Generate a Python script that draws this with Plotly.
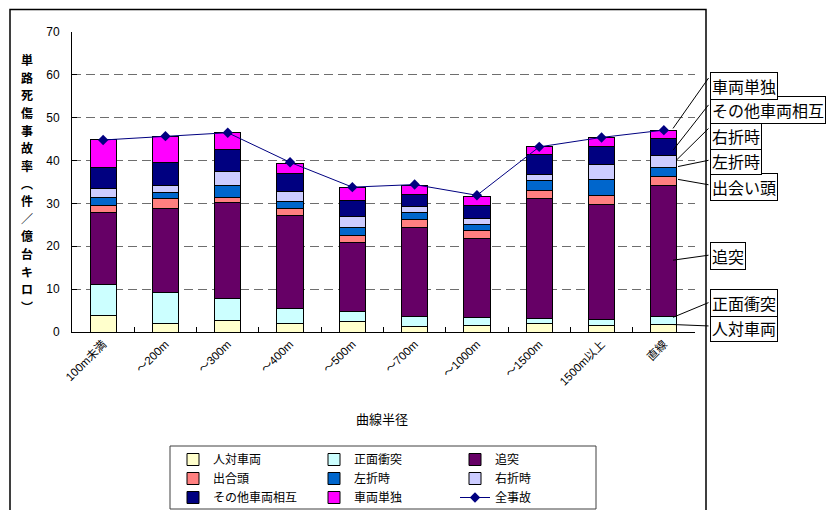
import plotly.graph_objects as go

# Curve radius classes
categories = ["100m未満", "～200m", "～300m", "～400m", "～500m",
              "～700m", "～1000m", "～1500m", "1500m以上", "直線"]

# Casualty accident rate on road sections (件/億台キロ), by accident type
pedestrian     = [3.8, 2.1, 2.6, 2.1, 2.5, 1.3, 1.6, 1.9, 1.5, 1.8]        # 人対車両
head_on        = [7.4, 7.2, 5.2, 3.3, 2.4, 2.4, 1.9, 1.3, 1.4, 1.8]        # 正面衝突
rear_end       = [16.7, 19.6, 22.5, 21.9, 16.0, 20.8, 18.3, 28.0, 26.9, 30.6]  # 追突
crossing       = [1.6, 2.2, 1.2, 1.6, 1.6, 1.7, 1.8, 1.9, 2.0, 2.2]        # 出合頭
left_turn      = [2.0, 1.4, 2.6, 1.6, 2.0, 1.7, 1.5, 2.3, 3.8, 2.1]        # 左折時
right_turn     = [2.0, 1.7, 3.4, 2.3, 2.4, 1.4, 1.3, 1.3, 3.6, 2.6]        # 右折時
other_vehicle  = [4.8, 5.3, 5.1, 4.3, 3.8, 2.8, 3.2, 4.7, 4.0, 4.0]        # その他車両相互
single_vehicle = [6.6, 6.2, 3.9, 2.2, 3.1, 2.2, 2.1, 1.8, 2.2, 1.9]        # 車両単独
all_accidents  = [44.8, 45.7, 46.5, 39.6, 33.8, 34.4, 31.9, 43.2, 45.4, 47.1]  # 全事故

series_names = ["人対車両", "正面衝突", "追突", "出合頭", "左折時", "右折時",
                "その他車両相互", "車両単独"]
series_values = [pedestrian, head_on, rear_end, crossing, left_turn, right_turn,
                 other_vehicle, single_vehicle]
series_colors = ["#FFFFCC", "#CCFFFF", "#660066", "#FF8080", "#0066CC", "#CCCCFF",
                 "#000080", "#FF00FF"]
# legend column of each series (three stacked columns)
series_legend = ["legend", "legend2", "legend3", "legend", "legend2", "legend3",
                 "legend", "legend2"]

# callout labels beside the last bar
callout_labels = ["人対車両", "正面衝突", "追突", "出会い頭", "左折時", "右折時",
                  "その他車両相互", "車両単独"]

JP = "Noto Sans CJK JP"
LATIN = "Arial, Liberation Sans, Noto Sans CJK JP"

W, H = 832, 510
PL, PR, PT, PB = 72, 695, 32, 332
N = len(categories)
CAT_W = (PR - PL) / N
Y_MAX = 70
Y_SCALE = (PB - PT) / Y_MAX


def px_x(px):
    return (px - PL) / (PR - PL)


def px_y(py):
    return (PB - py) / (PB - PT)


def cat_x(px):
    return (px - PL) / CAT_W - 0.5


def val_y(py):
    return (PB - py) / Y_SCALE


fig = go.Figure()

for name, vals, color, lg in zip(series_names, series_values, series_colors, series_legend):
    fig.add_trace(go.Bar(
        x=categories, y=vals, name=name, legend=lg,
        marker=dict(color=color, line=dict(color="black", width=1)),
    ))

fig.add_trace(go.Scatter(
    x=categories, y=all_accidents, name="全事故", legend="legend3",
    mode="lines+markers",
    line=dict(color="#000080", width=1),
    marker=dict(symbol="diamond", size=8, color="#000080"),
))

annotations = []

# y-axis title, written vertically one character per row
ytitle = "単路死傷事故率︵件／億台キロ︶"
y_first, y_step = 59.5, 17.65
for k, ch in enumerate(ytitle):
    annotations.append(dict(
        xref="paper", yref="paper", x=px_x(27), y=px_y(y_first + k * y_step),
        xanchor="center", yanchor="middle", showarrow=False,
        text="<b>" + ch + "</b>", font=dict(family=JP, size=12, color="black"),
    ))

# x-axis title
annotations.append(dict(
    xref="paper", yref="paper", x=px_x(382), y=px_y(418),
    xanchor="center", yanchor="middle", showarrow=False,
    text="曲線半径", font=dict(family=JP, size=13, color="black"),
))

# callouts for the last bar with leader lines
box_cy = [327.5, 302.5, 255.5, 186.5, 161, 135.5, 110, 85.5]
tail_py = [326, 302, 255, 185, 160, 127, 103, 76]
tip_px = [673, 673, 673, 678, 678, 676, 673, 673]
tip_frac = [0.97, 0.9, 0.43, 0.64, 1.05, 0.58, 0.33, 1.26]

last = N - 1
base = 0.0
for i, vals in enumerate(series_values):
    v = vals[last]
    tip_y = base + tip_frac[i] * v
    base += v
    annotations.append(dict(
        xref="x", yref="y", x=cat_x(tip_px[i]), y=tip_y,
        axref="x", ayref="y", ax=cat_x(710), ay=val_y(tail_py[i]),
        text=" ", font=dict(size=1), showarrow=True, arrowhead=0,
        arrowwidth=1, arrowcolor="black", standoff=0, startstandoff=0,
    ))
    annotations.append(dict(
        xref="paper", yref="paper", x=px_x(710), y=px_y(box_cy[i]),
        xanchor="left", yanchor="middle", showarrow=False,
        text=callout_labels[i], font=dict(family=JP, size=16, color="black"),
        bgcolor="white", bordercolor="black", borderwidth=1, borderpad=1,
    ))

shapes = [
    # outer chart frame
    dict(type="rect", xref="paper", yref="paper",
         x0=px_x(10), x1=px_x(706), y0=px_y(520), y1=px_y(9.5),
         line=dict(color="black", width=1.5), fillcolor="rgba(0,0,0,0)", layer="below"),
    # legend frame
    dict(type="rect", xref="paper", yref="paper",
         x0=px_x(170), x1=px_x(596), y0=px_y(509), y1=px_y(446),
         line=dict(color="#404040", width=1), fillcolor="rgba(0,0,0,0)"),
]

legend_common = dict(
    orientation="v", xanchor="left", yanchor="top", traceorder="normal",
    bgcolor="rgba(0,0,0,0)", borderwidth=0,
    font=dict(family=JP, size=12, color="black"),
    tracegroupgap=0, itemclick=False, itemdoubleclick=False,
)
legend_top = px_y(445)

fig.update_layout(
    width=W, height=H,
    margin=dict(l=PL, r=W - PR, t=PT, b=H - PB, autoexpand=False),
    barmode="stack", bargap=0.58,
    plot_bgcolor="white", paper_bgcolor="white",
    showlegend=True,
    legend=dict(legend_common, x=px_x(173), y=legend_top),
    legend2=dict(legend_common, x=px_x(314), y=legend_top),
    legend3=dict(legend_common, x=px_x(455), y=legend_top),
    annotations=annotations,
    shapes=shapes,
    xaxis=dict(
        type="category", range=[-0.5, N - 0.5], tickson="boundaries",
        ticks="inside", ticklen=5, tickcolor="black",
        showline=True, linecolor="black", linewidth=1,
        showgrid=False, zeroline=False, tickangle=-45,
        tickfont=dict(family=LATIN, size=11.5, color="black"),
    ),
    yaxis=dict(
        range=[0, Y_MAX], dtick=10, ticks="inside", ticklen=5, tickcolor="black",
        showline=True, linecolor="black", linewidth=1,
        showgrid=True, gridcolor="#6e6e6e", gridwidth=1, griddash="9px,5px",
        zeroline=False, ticklabelstandoff=9,
        tickfont=dict(family=LATIN, size=12, color="black"),
    ),
)

fig.write_html("out.html")
